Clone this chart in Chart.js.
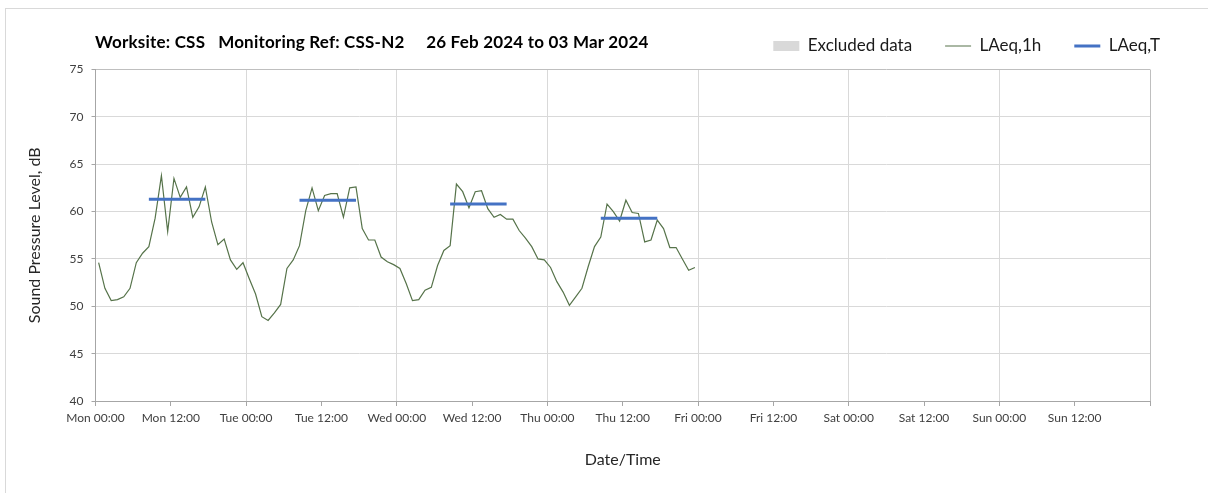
<!DOCTYPE html>
<html>
<head>
<meta charset="utf-8">
<script src="https://cdn.jsdelivr.net/npm/chart.js@4.4.1/dist/chart.umd.min.js"></script>
<style>
  html, body { margin: 0; padding: 0; background: #fff; }
  #wrap { position: relative; width: 1208px; height: 493px; overflow: hidden; }
  #frame { position: absolute; left: 5px; top: 8px; width: 1230px; height: 520px; border: 1px solid #d9d9d9; pointer-events: none; }
  #title { position: absolute; left: 95px; top: 32px; font: bold 17px Lato, sans-serif; line-height: 20px; color: #000; white-space: pre; letter-spacing: 0.2px; }
  canvas { position: absolute; left: 0; top: 0; }
</style>
</head>
<body>
<div id="wrap">
  <div id="frame"></div>
  <canvas id="chart" width="1208" height="493"></canvas>
  <div id="title">Worksite: CSS   Monitoring Ref: CSS-N2     26 Feb 2024 to 03 Mar 2024</div>
</div>
<script>
// hourly LAeq,1h per day, 00:00 .. 23:00
var monLevels = [54.6, 51.9, 50.6, 50.7, 51.0, 51.9, 54.6, 55.6, 56.3, 59.3, 63.8, 57.9, 63.5, 61.5, 62.6, 59.4, 60.5, 62.6, 58.9, 56.5, 57.1, 54.9, 53.9, 54.6];
var tueLevels = [52.9, 51.3, 48.9, 48.5, 49.3, 50.2, 54.0, 54.9, 56.4, 60.1, 62.5, 60.1, 61.7, 61.9, 61.9, 59.4, 62.5, 62.6, 58.2, 57.0, 57.0, 55.2, 54.7, 54.4];
var wedLevels = [54.0, 52.4, 50.6, 50.7, 51.7, 52.0, 54.3, 55.9, 56.4, 62.9, 62.1, 60.4, 62.1, 62.2, 60.3, 59.4, 59.7, 59.2, 59.2, 58.0, 57.2, 56.3, 55.0, 54.9];
var thuLevels = [54.1, 52.6, 51.5, 50.1, 51.0, 51.9, 54.2, 56.3, 57.3, 60.8, 60.0, 59.0, 61.2, 59.9, 59.8, 56.8, 57.0, 59.1, 58.2, 56.2, 56.2, 55.0, 53.8, 54.1];

// daytime LAeq,T per day (Mon..Thu)
var periodLevels = [61.3, 61.2, 60.8, 59.3];
var periodStart = 8.5;
var periodEnd = 17.5;

var xTickLabels = ["Mon 00:00", "Mon 12:00", "Tue 00:00", "Tue 12:00", "Wed 00:00", "Wed 12:00", "Thu 00:00", "Thu 12:00",
                   "Fri 00:00", "Fri 12:00", "Sat 00:00", "Sat 12:00", "Sun 00:00", "Sun 12:00", ""];

var hourlyPoints = [];
[monLevels, tueLevels, wedLevels, thuLevels].forEach(function(day, d){
    day.forEach(function(v, h){
        hourlyPoints.push({x: d * 24 + h + 0.5, y: v});
    });
});

var periodPoints = [];
periodLevels.forEach(function(v, d){
    periodPoints.push({x: d * 24 + periodStart, y: v});
    periodPoints.push({x: d * 24 + periodEnd, y: v});
    periodPoints.push({x: d * 24 + periodEnd + 0.5, y: null});
});

var font = "Lato, sans-serif";

// legend sits on the same row as the title
var legendShift = {
    id: "legendShift",
    afterLayout: function(chart){
        chart.legend.top -= 5;
        chart.legend.bottom -= 5;
    }
};

var ctx = document.getElementById("chart").getContext("2d");
var myChart = new Chart(ctx, {
    type: "line",
    plugins: [legendShift],
    data: {
        datasets: [{
            label: "Excluded data",
            data: [],
            order: 2,
            backgroundColor: "#d9d9d9",
            borderColor: "#d9d9d9",
            pointStyle: "rect",
            pointBackgroundColor: "#d9d9d9",
            pointBorderColor: "#d9d9d9",
            pointBorderWidth: 0
        }, {
            label: "LAeq,1h",
            data: hourlyPoints,
            order: 1,
            borderColor: "#56734a",
            backgroundColor: "#56734a",
            borderWidth: 1.2,
            pointRadius: 0,
            pointStyle: "line",
            pointBorderColor: "#56734a",
            pointBorderWidth: 1.2,
            tension: 0
        }, {
            label: "LAeq,T",
            data: periodPoints,
            order: 0,
            borderColor: "#4472c4",
            backgroundColor: "#4472c4",
            borderWidth: 3,
            pointRadius: 0,
            pointStyle: "line",
            pointBorderColor: "#4472c4",
            pointBorderWidth: 3,
            spanGaps: false
        }]
    },
    options: {
        responsive: false,
        animation: false,
        layout: { padding: { top: -9.5, left: 21, right: 15, bottom: 20 } },
        plugins: {
            tooltip: { enabled: false },
            legend: {
                position: "top",
                align: "end",
                labels: {
                    usePointStyle: true,
                    pointStyleWidth: 26,
                    boxHeight: 10,
                    padding: 33,
                    color: "#1a1a1a",
                    font: { family: font, size: 17 },
                    sort: function(a, b){ return a.datasetIndex - b.datasetIndex; }
                }
            }
        },
        scales: {
            x: {
                type: "linear",
                min: 0,
                max: 168,
                afterFit: function(scale){
                    scale.height = 72;
                    scale.paddingRight = 58;
                },
                ticks: {
                    stepSize: 12,
                    autoSkip: false,
                    maxRotation: 0,
                    padding: 5,
                    color: "#404040",
                    font: { family: font, size: 12 },
                    callback: function(value){ return xTickLabels[value / 12]; }
                },
                grid: {
                    color: function(c){
                        if (c.tick.value === 168) return "#bfbfbf";
                        return c.tick.value % 24 === 0 ? "#d9d9d9" : "rgba(0,0,0,0)";
                    },
                    tickColor: "#a6a6a6",
                    tickLength: 5
                },
                border: { color: "#a6a6a6" },
                title: {
                    display: true,
                    text: "Date/Time",
                    color: "#262626",
                    font: { family: font, size: 16 }
                }
            },
            y: {
                min: 40,
                max: 75,
                afterFit: function(scale){
                    scale.width = 74.5;
                    scale.paddingTop = 69.5;
                },
                ticks: {
                    stepSize: 5,
                    padding: 8,
                    color: "#404040",
                    font: { family: font, size: 12 }
                },
                grid: {
                    color: function(c){ return c.tick.value === 75 ? "#bfbfbf" : "#d9d9d9"; },
                    tickColor: "#a6a6a6",
                    tickLength: 4
                },
                border: { color: "#a6a6a6" },
                title: {
                    display: true,
                    text: "Sound Pressure Level, dB",
                    color: "#262626",
                    font: { family: font, size: 16 }
                }
            }
        }
    }
});
</script>
</body>
</html>
